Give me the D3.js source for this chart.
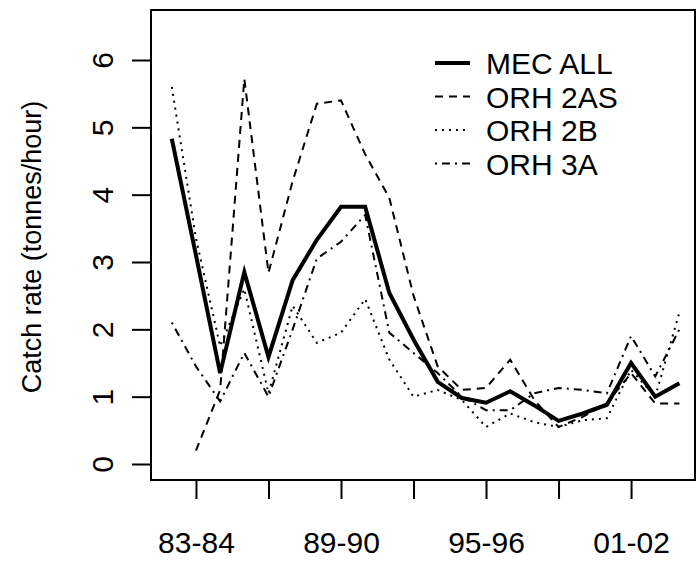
<!DOCTYPE html>
<html>
<head>
<meta charset="utf-8">
<script src="https://cdn.jsdelivr.net/npm/d3@7"></script>
<style>
  html, body { margin: 0; padding: 0; background: #fff; }
  svg { display: block; font-family: "Liberation Sans", Arial, sans-serif; }
</style>
</head>
<body>
<svg id="chart" width="696" height="562"></svg>
<script>
// ---- data ----
const seasons = ["82-83","83-84","84-85","85-86","86-87","87-88","88-89","89-90","90-91","91-92","92-93",
                 "93-94","94-95","95-96","96-97","97-98","98-99","99-00","00-01","01-02","02-03","03-04"];
const mecAll = [4.83, 3.1, 1.35, 2.85, 1.59, 2.73, 3.33, 3.82, 3.82, 2.54, 1.85, 1.22, 0.98, 0.91, 1.08, 0.87, 0.64, 0.75, 0.88, 1.5, 1.0, 1.2];
const orh2AS = [null, 0.2, 1.1, 5.72, 2.84, 4.2, 5.35, 5.4, 4.6, 3.95, 2.5, 1.45, 1.1, 1.13, 1.55, 0.95, 0.55, 0.7, 0.9, 1.35, 0.9, 0.9];
const orh2B  = [5.6, 3.35, 1.75, 2.6, 1.05, 2.35, 1.8, 1.95, 2.45, 1.55, 1.0, 1.1, 0.95, 0.55, 0.75, 0.62, 0.55, 0.65, 0.68, 1.4, 1.0, 2.25];
const orh3A  = [2.1, 1.45, 0.93, 1.65, 1.0, 2.0, 3.05, 3.3, 3.7, 1.95, 1.65, 1.35, 1.0, 0.8, 0.8, 1.05, 1.13, 1.1, 1.05, 1.9, 1.3, 2.0];
const seriesNames = ["MEC ALL", "ORH 2AS", "ORH 2B", "ORH 3A"];
const xTickSeasons = ["83-84","86-87","89-90","92-93","95-96","98-99","01-02"];
const xLabelSeasons = ["83-84","89-90","95-96","01-02"];
const yTicks = [0, 1, 2, 3, 4, 5, 6];
const yTitle = "Catch rate (tonnes/hour)";

// ---- layout ----
const svg = d3.select("#chart");
const box = {left: 151, top: 10, right: 695, bottom: 480};
const x = d3.scaleLinear().domain([0, seasons.length - 1]).range([171.8, 679.4]);
const y = d3.scaleLinear().domain([0, 6]).range([464, 60]);

svg.append("rect").attr("width", 696).attr("height", 562).attr("fill", "#fff");

// plot box
svg.append("rect")
  .attr("x", box.left).attr("y", box.top)
  .attr("width", box.right - box.left).attr("height", box.bottom - box.top)
  .attr("fill", "none").attr("stroke", "#000").attr("stroke-width", 2);

// y axis
const yAxis = d3.axisLeft(y).tickValues(yTicks).tickSize(19).tickPadding(0).tickFormat(d3.format("d"));
const gy = svg.append("g").attr("transform", `translate(${box.left},0)`).call(yAxis);
gy.select(".domain").remove();
gy.selectAll(".tick line").attr("stroke", "#000").attr("stroke-width", 2);
gy.selectAll(".tick text")
  .attr("x", null).attr("dy", null)
  .attr("transform", "translate(-38,0) rotate(-90)")
  .attr("text-anchor", "middle")
  .attr("font-size", 30).attr("fill", "#000");

// x axis
const idx = s => seasons.indexOf(s);
const xAxis = d3.axisBottom(x)
  .tickValues(xTickSeasons.map(idx))
  .tickSize(19).tickPadding(0)
  .tickFormat(i => xLabelSeasons.includes(seasons[i]) ? seasons[i] : "");
const gx = svg.append("g").attr("transform", `translate(0,${box.bottom})`).call(xAxis);
gx.select(".domain").remove();
gx.selectAll(".tick line").attr("stroke", "#000").attr("stroke-width", 2);
gx.selectAll(".tick text")
  .attr("y", 73).attr("dy", null)
  .attr("font-size", 30).attr("fill", "#000");

// y title
svg.append("text")
  .attr("transform", "translate(41,247) rotate(-90)")
  .attr("text-anchor", "middle")
  .attr("font-size", 27)
  .text(yTitle);

// lines
const styles = [
  {data: mecAll, width: 4, dash: null},
  {data: orh2AS, width: 2, dash: "8,6"},
  {data: orh2B,  width: 2, dash: "2,5"},
  {data: orh3A,  width: 2, dash: "2,5,8,5"}
];
const line = d3.line().defined(d => d[1] != null).x(d => x(d[0])).y(d => y(d[1]));
styles.slice().reverse().forEach(s => {
  svg.append("path")
    .datum(s.data.map((v, i) => [i, v]))
    .attr("d", line)
    .attr("fill", "none")
    .attr("stroke", "#000")
    .attr("stroke-width", s.width)
    .attr("stroke-dasharray", s.dash)
    .attr("stroke-linejoin", "miter");
});

// legend
const legendBase = [74, 107.5, 141, 174.5];
seriesNames.forEach((name, k) => {
  const by = legendBase[k];
  svg.append("line")
    .attr("x1", 435).attr("x2", 470)
    .attr("y1", by - 11).attr("y2", by - 11)
    .attr("stroke", "#000")
    .attr("stroke-width", styles[k].width)
    .attr("stroke-dasharray", styles[k].dash);
  svg.append("text")
    .attr("x", 486).attr("y", by)
    .attr("font-size", 30)
    .attr("fill", "#000")
    .text(name);
});
</script>
</body>
</html>
